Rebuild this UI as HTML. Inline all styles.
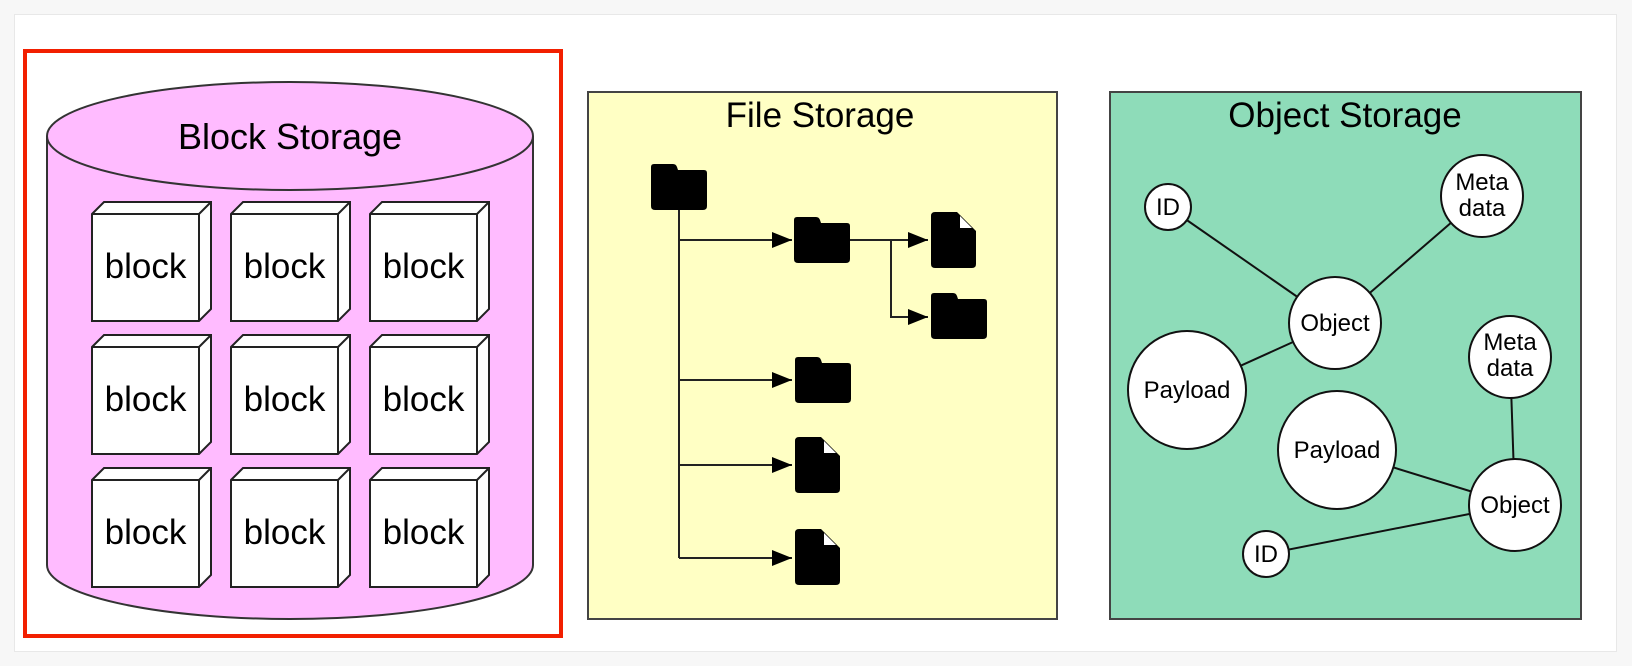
<!DOCTYPE html>
<html><head><meta charset="utf-8"><style>
html,body{margin:0;padding:0;background:#f6f6f6;}
svg{display:block;}
text{font-family:"Liberation Sans",Helvetica,Arial,sans-serif;fill:#000;}
</style></head><body>
<svg width="1632" height="666" viewBox="0 0 1632 666" xmlns="http://www.w3.org/2000/svg">
<defs>
<g id="cube">
<path d="M0 12 L12 0 L119 0 L119 107 L107 119 L0 119 Z" fill="#fff" stroke="#222" stroke-width="2"/>
<path d="M0 12 L107 12 L107 119 M107 12 L119 0" fill="none" stroke="#222" stroke-width="2"/>
<text x="53.5" y="76" font-size="35" text-anchor="middle">block</text>
</g>
<path id="folder" d="M3 0 H22 Q25 0 26 3 L27 6 H53 Q56 6 56 9 V42 Q56 46 52 46 H4 Q0 46 0 42 V3 Q0 0 3 0 Z" fill="#000"/>
<g id="file">
<path d="M4 0 H26 L45 19 V52 Q45 56 41 56 H4 Q0 56 0 52 V4 Q0 0 4 0 Z" fill="#000"/>
<path d="M29 4 L41 16 H29 Z" fill="#fff"/>
</g>
<marker id="ah" markerWidth="20" markerHeight="16" refX="20" refY="8" orient="auto" markerUnits="userSpaceOnUse"><path d="M0 0 L20 8 L0 16 Z" fill="#000"/></marker>
</defs>
<rect x="0" y="0" width="1632" height="666" fill="#f7f7f7"/>
<rect x="14.5" y="14.5" width="1602" height="637" fill="#fff" stroke="#e8e8e8" stroke-width="1"/>
<!-- Block storage -->
<rect x="25" y="51" width="536" height="585" fill="none" stroke="#f21f00" stroke-width="4"/>
<path d="M47 136 V565 A243 54 0 0 0 533 565 V136" fill="#ffbbff" stroke="#333" stroke-width="2"/>
<ellipse cx="290" cy="136" rx="243" ry="54" fill="#ffbbff" stroke="#333" stroke-width="2"/>
<text x="290" y="149" font-size="36" text-anchor="middle">Block Storage</text>
<use href="#cube" x="92" y="202"/><use href="#cube" x="231" y="202"/><use href="#cube" x="370" y="202"/>
<use href="#cube" x="92" y="335"/><use href="#cube" x="231" y="335"/><use href="#cube" x="370" y="335"/>
<use href="#cube" x="92" y="468"/><use href="#cube" x="231" y="468"/><use href="#cube" x="370" y="468"/>
<!-- File storage -->
<rect x="588" y="92" width="469" height="527" fill="#ffffc4" stroke="#444" stroke-width="2"/>
<text x="820" y="127" font-size="35" text-anchor="middle">File Storage</text>
<g stroke="#222" stroke-width="2" fill="none">
<path d="M679 209 V558"/>
<path d="M679 240 H792" marker-end="url(#ah)"/>
<path d="M679 380 H792" marker-end="url(#ah)"/>
<path d="M679 465 H792" marker-end="url(#ah)"/>
<path d="M679 558 H792" marker-end="url(#ah)"/>
<path d="M850 240 H928" marker-end="url(#ah)"/>
<path d="M891 240 V317 H928" marker-end="url(#ah)"/>
</g>
<use href="#folder" x="651" y="164"/>
<use href="#folder" x="794" y="217"/>
<use href="#folder" x="931" y="293"/>
<use href="#folder" x="795" y="357"/>
<use href="#file" x="931" y="212"/>
<use href="#file" x="795" y="437"/>
<use href="#file" x="795" y="529"/>
<!-- Object storage -->
<rect x="1110" y="92" width="471" height="527" fill="#8edcb9" stroke="#444" stroke-width="2"/>
<text x="1345" y="127" font-size="35" text-anchor="middle">Object Storage</text>
<g stroke="#111" stroke-width="2">
<line x1="1168" y1="207" x2="1335" y2="323"/>
<line x1="1482" y1="196" x2="1335" y2="323"/>
<line x1="1187" y1="390" x2="1335" y2="323"/>
<line x1="1510" y1="357" x2="1515" y2="505"/>
<line x1="1337" y1="450" x2="1515" y2="505"/>
<line x1="1266" y1="554" x2="1515" y2="505"/>
</g>
<g fill="#fff" stroke="#111" stroke-width="2">
<circle cx="1168" cy="207" r="23"/>
<circle cx="1482" cy="196" r="41"/>
<circle cx="1335" cy="323" r="46"/>
<circle cx="1187" cy="390" r="59"/>
<circle cx="1510" cy="357" r="41"/>
<circle cx="1337" cy="450" r="59"/>
<circle cx="1515" cy="505" r="46"/>
<circle cx="1266" cy="554" r="23"/>
</g>
<g font-size="24" text-anchor="middle">
<text x="1168" y="215">ID</text>
<text x="1482" y="190">Meta</text><text x="1482" y="216">data</text>
<text x="1335" y="331">Object</text>
<text x="1187" y="398">Payload</text>
<text x="1510" y="350">Meta</text><text x="1510" y="376">data</text>
<text x="1337" y="458">Payload</text>
<text x="1515" y="513">Object</text>
<text x="1266" y="562">ID</text>
</g>
</svg>
</body></html>
